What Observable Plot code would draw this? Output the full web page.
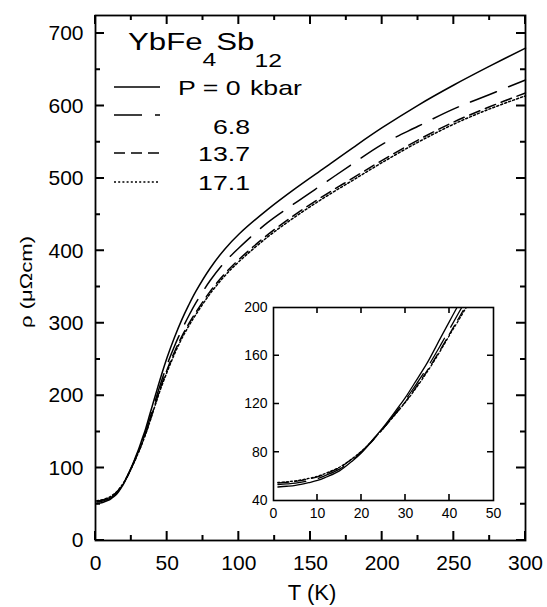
<!DOCTYPE html>
<html><head><meta charset="utf-8">
<script src="https://cdn.jsdelivr.net/npm/d3@7"></script>
<script src="https://cdn.jsdelivr.net/npm/@observablehq/plot@0.6"></script>
<style>
body{margin:0;background:#fff;}
#wrap{position:relative;width:547px;height:607px;overflow:hidden;background:#fff;}
#wrap svg{position:absolute;}
</style></head><body><div id="wrap"></div>
<script>
// Temperature (K)
const T = [1,3,5,8,10,12,15,18,20,22,25,28,30,32,35,38,40,42,45,50,55,60,65,70,80,90,100,120,140,160,180,200,225,250,275,300];
// Resistivity (µΩcm) per pressure
const rhoP0   = [51.2,51.8,52.6,54.8,56.6,59.5,64.6,73,79.6,88,101,115.5,125.5,137,154.5,175,188.5,202,222,253,280,304,325,344,376,402,423,457,487,515,543,570,601,629,655,680];
const rhoP6_8 = [53.2,53.7,54.4,56.4,58.2,61,66,74,80,87.5,100,114,123.5,134,150.5,169,182,195,214,243,268,290,310,328,359,384,404,439,467,494,521,547,572,596,616,636];
const rhoP13_7= [54.5,55,55.8,57.8,59.6,62.3,67.2,74.8,80.6,87.8,100,113,122,132,148,165.5,178,190.5,209,236,260,281,299,315,344,368,388,422,451,477,501,525,553,578,599,618];
const rhoP17_1= [55,55.5,56.3,58.3,60.1,62.8,67.6,75.1,80.9,88,100,112.7,121.5,131.2,147,164.5,177,189,207,233,257,278,296,312,341,365,385,419,448,474,498,522,550,575,596,614];
const pressures = ["0","6.8","13.7","17.1"];
const seriesVals = [rhoP0, rhoP6_8, rhoP13_7, rhoP17_1];
const dashes = [null, "28,13", "11,6", "2,2.2"];

const xMajor = [0,50,100,150,200,250,300];
const xMinor = [25,75,125,175,225,275];
const yMajor = [0,100,200,300,400,500,600,700];
const yMinor = [50,150,250,350,450,550,650];
const insetXTicks = [0,10,20,30,40,50];
const insetYTicks = [40,80,120,160,200];

const rows = pressures.map((p,k)=>T.map((t,i)=>({T:t, rho:seriesVals[k][i], P:p})));

const FONT = "'Liberation Sans', Arial, Helvetica, sans-serif";
const wrap = document.getElementById("wrap");

function lineMarks(filterFn, sw, clip){
  return rows.map((r,k)=>Plot.line(r.filter(filterFn), {x:"T", y:"rho", stroke:"black", strokeWidth:sw, strokeDasharray:dashes[k], curve:"catmull-rom", clip}));
}

const W = 547, H = 607, ML = 95, MR = 22, MT = 15, MB = 67;
const main = Plot.plot({
  width:W, height:H, marginLeft:ML, marginRight:MR, marginTop:MT, marginBottom:MB,
  x:{domain:[0,300], label:null}, y:{domain:[0,725], label:null},
  style:{fontFamily:FONT, fontSize:"21px", color:"black", background:"transparent", overflow:"visible"},
  marks:[
    ...lineMarks(()=>true, 1.5, false),
    Plot.frame({stroke:"black", strokeWidth:1.8}),
    Plot.axisX({anchor:"bottom", ticks:xMajor, tickSize:0, tickPadding:15, label:null, fontSize:21}),
    Plot.axisY({anchor:"left", ticks:yMajor, tickSize:0, tickPadding:12, label:null, fontSize:21})
  ]
});
main.style.left = "0px"; main.style.top = "0px";
wrap.appendChild(main);

// Inset
const iml = 40, imt = 8, imr = 12, imb = 26, inW = 220, inH = 193, inL = 273, inT = 307;
const inset = Plot.plot({
  width: iml+inW+imr, height: imt+inH+imb, marginLeft:iml, marginRight:imr, marginTop:imt, marginBottom:imb,
  x:{domain:[0,50], label:null}, y:{domain:[40,200], label:null},
  style:{fontFamily:FONT, fontSize:"14px", color:"black", background:"transparent", overflow:"visible"},
  marks:[
    Plot.frame({fill:"white"}),
    ...lineMarks(d=>d.T<=50, 1.3, true),
    Plot.frame({stroke:"black", strokeWidth:1.6}),
    Plot.axisX({anchor:"bottom", ticks:insetXTicks, tickSize:0, tickPadding:8, label:null, fontSize:14}),
    Plot.axisY({anchor:"left", ticks:insetYTicks, tickSize:0, tickPadding:6, label:null, fontSize:14})
  ]
});
inset.style.left = (inL-iml)+"px"; inset.style.top = (inT-imt)+"px";
wrap.appendChild(inset);

// Overlay: inward ticks (positions from Plot scales), title, legend, axis titles
const ov = d3.select(wrap).append("svg").attr("width",W).attr("height",H)
  .style("left","0px").style("top","0px").style("z-index","5").style("font-family",FONT);

function drawTicks(sx, sy, xt, yt, len, left, top, right, bottom, ox, oy, sw){
  let d = "";
  xt.forEach(v=>{
    const x = ox + sx.apply(v);
    d += `M${x},${bottom}V${bottom-len}M${x},${top}V${top+len}`;
  });
  yt.forEach(v=>{
    const y = oy + sy.apply(v);
    d += `M${left},${y}H${left+len}M${right},${y}H${right-len}`;
  });
  ov.append("path").attr("d", d).attr("stroke","black").attr("stroke-width",sw).attr("fill","none");
}
const mx = main.scale("x"), my = main.scale("y");
drawTicks(mx, my, xMajor, yMajor, 9, ML, MT, W-MR, H-MB, 0, 0, 2);
drawTicks(mx, my, xMinor, yMinor, 5, ML, MT, W-MR, H-MB, 0, 0, 2);
const ix = inset.scale("x"), iy = inset.scale("y");
drawTicks(ix, iy, insetXTicks.slice(1,-1), insetYTicks.slice(1,-1), 6, inL, inT, inL+inW, inT+inH, inL-iml, inT-imt, 1.6);

const title = ov.append("text").attr("transform","translate(128,50) scale(1.3,1)").attr("font-size",24);
title.append("tspan").text("YbFe");
title.append("tspan").attr("dy",16).attr("font-size",19).text("4");
title.append("tspan").attr("dy",-16).text("Sb");
title.append("tspan").attr("dy",17).attr("font-size",19).text("12");

const legLines = [87,115,153,182];
const legTextY = [94.5,133.5,160.5,189.5];
pressures.forEach((p,k)=>{
  ov.append("line").attr("x1",114).attr("x2",160).attr("y1",legLines[k]).attr("y2",legLines[k])
    .attr("stroke","black").attr("stroke-width",1.5).attr("stroke-dasharray",dashes[k]);
  if(k===0){
    ov.append("text").attr("transform",`translate(178,${legTextY[k]}) scale(1.27,1)`).attr("font-size",21).text("P = "+p);
    ov.append("text").attr("transform",`translate(250,${legTextY[k]}) scale(1.27,1)`).attr("font-size",21).text("kbar");
  } else {
    ov.append("text").attr("transform",`translate(250,${legTextY[k]}) scale(1.27,1)`).attr("text-anchor","end").attr("font-size",21).text(p);
  }
});
ov.append("text").attr("x",312).attr("y",600).attr("text-anchor","middle").attr("font-size",22).text("T (K)");
ov.append("text").attr("transform","translate(32,282) rotate(-90) scale(1.3,1)").attr("text-anchor","middle").attr("font-size",17).text("ρ (μΩcm)");
</script></body></html>
